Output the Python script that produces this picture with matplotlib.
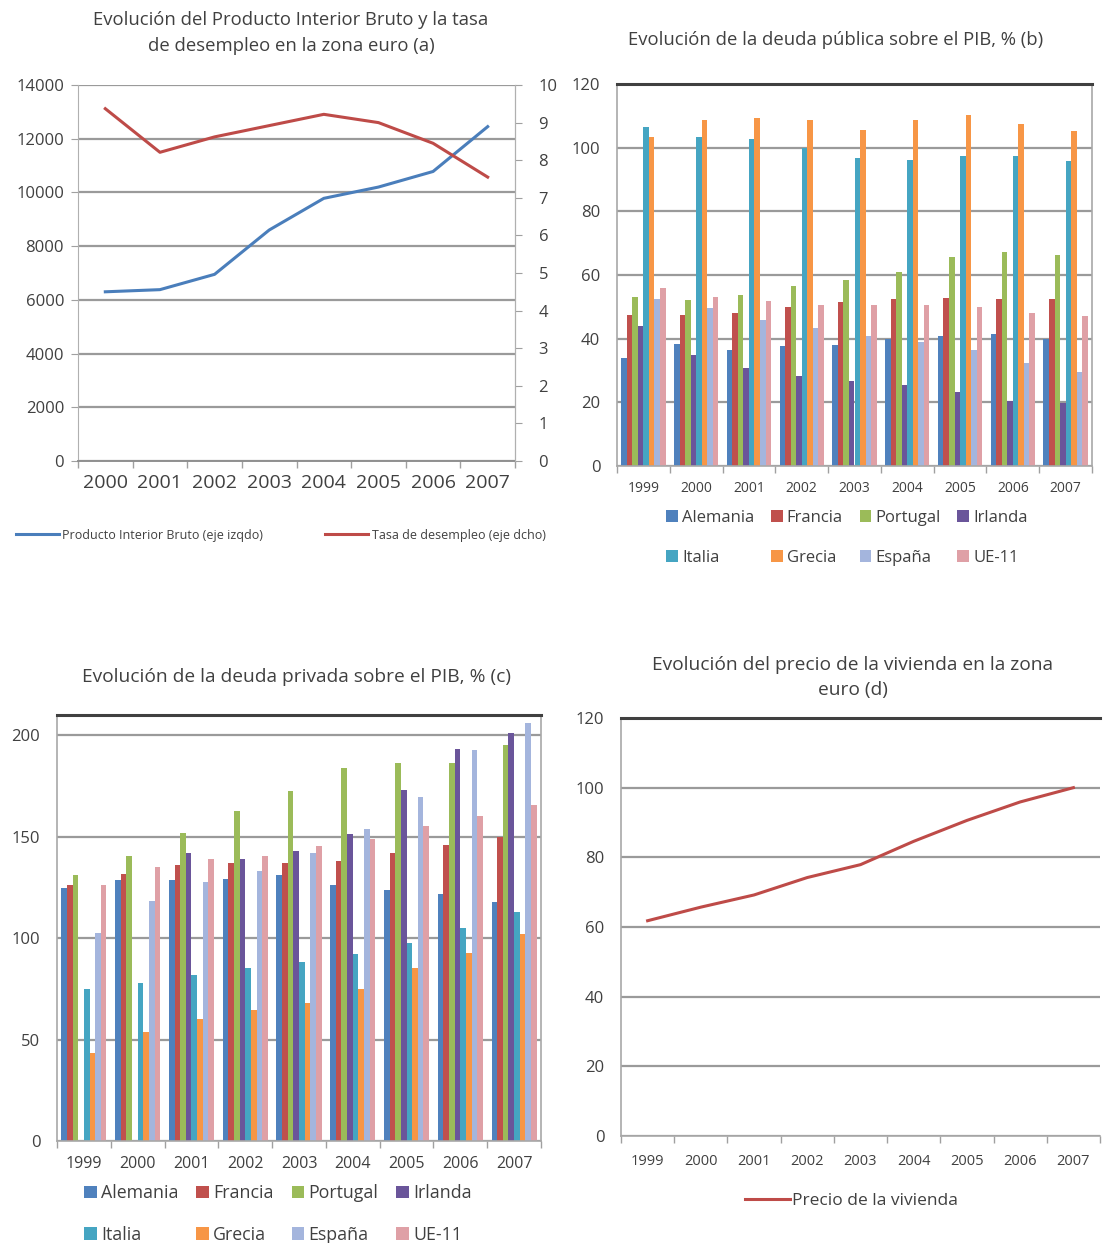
import numpy as np
import matplotlib.pyplot as plt
from matplotlib.ticker import MultipleLocator, FixedLocator

plt.rcParams['font.family'] = ['Open Sans', 'DejaVu Sans']

# Datos panel (a)
anios_a = ['2000', '2001', '2002', '2003', '2004', '2005', '2006', '2007']
pib = [6300, 6380, 6950, 8600, 9780, 10200, 10780, 12450]
desempleo = [9.37, 8.21, 8.62, 8.92, 9.22, 9.0, 8.45, 7.55]

# Datos paneles (b) y (c)
anios = ['1999', '2000', '2001', '2002', '2003', '2004', '2005', '2006', '2007']
paises = ['Alemania', 'Francia', 'Portugal', 'Irlanda', 'Italia', 'Grecia', 'España', 'UE-11']
colores = ['#4F81BD', '#C0504D', '#9BBB59', '#6A559A', '#45A5C2', '#F79646', '#A4B5DD', '#DFA0A6']

alemania_b = [34, 38.4, 36.5, 37.6, 38.1, 40, 40.7, 41.4, 39.9]
francia_b = [47.5, 47.3, 48, 49.8, 51.5, 52.4, 52.9, 52.4, 52.4]
portugal_b = [53.2, 52.2, 53.8, 56.4, 58.5, 61, 65.8, 67.3, 66.3]
irlanda_b = [44, 35, 30.8, 28.2, 26.6, 25.6, 23.2, 20.4, 19.8]
italia_b = [106.5, 103.5, 102.8, 100, 96.6, 96, 97.3, 97.3, 95.8]
grecia_b = [103.5, 108.8, 109.3, 108.6, 105.4, 108.6, 110.3, 107.5, 105.1]
espana_b = [52.4, 49.5, 46, 43.3, 40.7, 39.1, 36.5, 32.4, 29.4]
ue11_b = [55.8, 53, 51.7, 50.6, 50.6, 50.6, 50.1, 48.2, 47.2]

alemania_c = [124.8, 128.6, 128.6, 129.4, 131, 126.1, 123.5, 122, 117.9]
francia_c = [126, 131.4, 136.3, 136.8, 136.8, 137.9, 142, 146.1, 149.9]
portugal_c = [131, 140.4, 151.9, 162.6, 172.4, 183.9, 186.4, 186.4, 195.4]
irlanda_c = [np.nan, np.nan, 142, 139.1, 142.9, 151.4, 173.2, 193.3, 201.1]
italia_c = [74.7, 78, 81.6, 85.4, 88.2, 92, 97.7, 105.1, 113]
grecia_c = [43.5, 53.9, 59.9, 64.5, 68.1, 74.7, 85.4, 92.8, 101.8]
espana_c = [102.6, 118.2, 127.6, 133.3, 142, 153.9, 169.6, 192.9, 206.1]
ue11_c = [126, 135.1, 138.8, 140.4, 145.6, 148.9, 155.2, 160.4, 165.8]

# Datos panel (d)
precio_vivienda = [61.8, 65.7, 69.2, 74.2, 77.9, 84.6, 90.6, 95.9, 100]

W, H = 1107, 1243
fig = plt.figure(figsize=(W / 100, H / 100), dpi=100)

TXT = '#404040'
GRID = '#9a9a9a'


def caja(x0, y0, x1, y1):
    # rectangulo en pixeles (desde arriba) -> coordenadas de figura
    return [x0 / W, 1 - y1 / H, (x1 - x0) / W, (y1 - y0) / H]


def eje_categorias(ax, n, size):
    ax.set_xlim(-0.5, n - 0.5)
    ax.xaxis.set_major_locator(FixedLocator(np.arange(n)))
    ax.xaxis.set_minor_locator(FixedLocator(np.arange(n + 1) - 0.5))
    ax.tick_params(axis='x', which='major', length=0, pad=9, labelsize=size, colors=TXT)
    ax.tick_params(axis='x', which='minor', length=5, width=1, color='#a0a0a0', direction='out')


def estilo_marco(ax):
    ax.grid(axis='y', color=GRID, linewidth=1.6)
    ax.set_axisbelow(True)
    ax.spines['top'].set_color('#404040')
    ax.spines['top'].set_linewidth(2.2)
    for s in ['left', 'right', 'bottom']:
        ax.spines[s].set_color('#a8a8a8')
        ax.spines[s].set_linewidth(1.2)
    ax.tick_params(axis='y', length=0, pad=12, labelsize=12, colors=TXT)


# ---------- (a) PIB y desempleo ----------
ax1 = fig.add_axes(caja(78, 85, 515, 461))
x_a = np.arange(len(anios_a))
ax1.plot(x_a, pib, color='#4A7EBB', linewidth=2.2, label='Producto Interior Bruto (eje izqdo)')
ax1.set_ylim(0, 14000)
ax1.yaxis.set_major_locator(MultipleLocator(2000))
ax1.grid(axis='y', color=GRID, linewidth=1.6)
ax1.set_axisbelow(True)
eje_categorias(ax1, len(anios_a), 14)
ax1.set_xticklabels(anios_a)
ax1.tick_params(axis='y', length=5, color='#a0a0a0', pad=5, labelsize=12, colors=TXT)
ax1.spines['top'].set_visible(False)
ax1.spines['left'].set_color('#b0b0b0')
ax1.spines['right'].set_color('#b0b0b0')
ax1.spines['bottom'].set_color('#909090')
ax1.spines['bottom'].set_linewidth(1.4)

ax1b = ax1.twinx()
ax1b.plot(x_a, desempleo, color='#BE4B48', linewidth=2.2, label='Tasa de desempleo (eje dcho)')
ax1b.set_ylim(0, 10)
ax1b.yaxis.set_major_locator(MultipleLocator(1))
ax1b.tick_params(axis='y', length=5, color='#a0a0a0', pad=12, labelsize=12, colors=TXT)
ax1b.spines['top'].set_visible(False)
ax1b.spines['right'].set_color('#b0b0b0')
ax1b.spines['left'].set_visible(False)
ax1b.spines['bottom'].set_visible(False)

fig.text(291 / W, 1 - 33 / H, 'Evolución del Producto Interior Bruto y la tasa\nde desempleo en la zona euro (a)',
         ha='center', va='center', fontsize=13.3, color=TXT, linespacing=1.55)

ley_a = dict(frameon=False, fontsize=9, handlelength=3.4, handletextpad=0.3, labelcolor=TXT)
h1, l1 = ax1.get_legend_handles_labels()
h2, l2 = ax1b.get_legend_handles_labels()
fig.legend(h1, l1, loc='center left', bbox_to_anchor=(5 / W, 1 - 535 / H), **ley_a)
fig.legend(h2, l2, loc='center left', bbox_to_anchor=(314 / W, 1 - 535 / H), **ley_a)


# ---------- barras agrupadas (b) y (c) ----------
def barras(ax, series, ymax, paso, size):
    n = len(anios)
    x = np.arange(n)
    ancho = 0.105
    for i, (valores, nombre, color) in enumerate(zip(series, paises, colores)):
        ax.bar(x + (i - 3.5) * ancho, valores, ancho, color=color, label=nombre,
               edgecolor='none')
    ax.set_ylim(0, ymax)
    ax.yaxis.set_major_locator(MultipleLocator(paso))
    estilo_marco(ax)
    eje_categorias(ax, n, size)
    ax.set_xticklabels(anios)
    ax.tick_params(axis='x', which='major', pad=11)


def leyenda_paises(ax, centro, size, sep):
    h, l = ax.get_legend_handles_labels()
    orden = [0, 4, 1, 5, 2, 6, 3, 7]
    fig.legend([h[i] for i in orden], [l[i] for i in orden], loc='center',
               bbox_to_anchor=centro, ncol=4, frameon=False, fontsize=size,
               handlelength=0.7, handleheight=0.7, handletextpad=0.25,
               columnspacing=1.0, labelspacing=sep, labelcolor=TXT)


ax2 = fig.add_axes(caja(617, 84, 1092, 466))
barras(ax2, [alemania_b, francia_b, portugal_b, irlanda_b, italia_b, grecia_b, espana_b, ue11_b], 120, 20, 10)
fig.text(836 / W, 1 - 40 / H, 'Evolución de la deuda pública sobre el PIB, % (b)',
         ha='center', va='center', fontsize=13.3, color=TXT)
leyenda_paises(ax2, (847 / W, 1 - 538 / H), 12, 1.45)

ax3 = fig.add_axes(caja(57, 715, 541, 1141))
barras(ax3, [alemania_c, francia_c, portugal_c, irlanda_c, italia_c, grecia_c, espana_c, ue11_c], 210, 50, 11.5)
fig.text(297 / W, 1 - 677 / H, 'Evolución de la deuda privada sobre el PIB, % (c)',
         ha='center', va='center', fontsize=13.8, color=TXT)
leyenda_paises(ax3, (278 / W, 1 - 1214 / H), 12.8, 1.3)

# ---------- (d) precio de la vivienda ----------
ax4 = fig.add_axes(caja(621, 718, 1100, 1136))
ax4.plot(np.arange(len(anios)), precio_vivienda, color='#BE4B48', linewidth=2.2,
         label='Precio de la vivienda')
ax4.set_ylim(0, 120)
ax4.yaxis.set_major_locator(MultipleLocator(20))
estilo_marco(ax4)
ax4.spines['right'].set_visible(False)
eje_categorias(ax4, len(anios), 10.5)
ax4.set_xticklabels(anios)
ax4.tick_params(axis='x', which='major', pad=13)
fig.text(853 / W, 1 - 677 / H, 'Evolución del precio de la vivienda en la zona\neuro (d)',
         ha='center', va='center', fontsize=13.8, color=TXT, linespacing=1.5)
ax4.legend(loc='center', bbox_to_anchor=(851 / W, 1 - 1201 / H), bbox_transform=fig.transFigure,
           frameon=False, fontsize=12.5, handlelength=2.6, handletextpad=0.1, labelcolor=TXT)

fig.savefig('out.png', dpi=100, facecolor='white')
